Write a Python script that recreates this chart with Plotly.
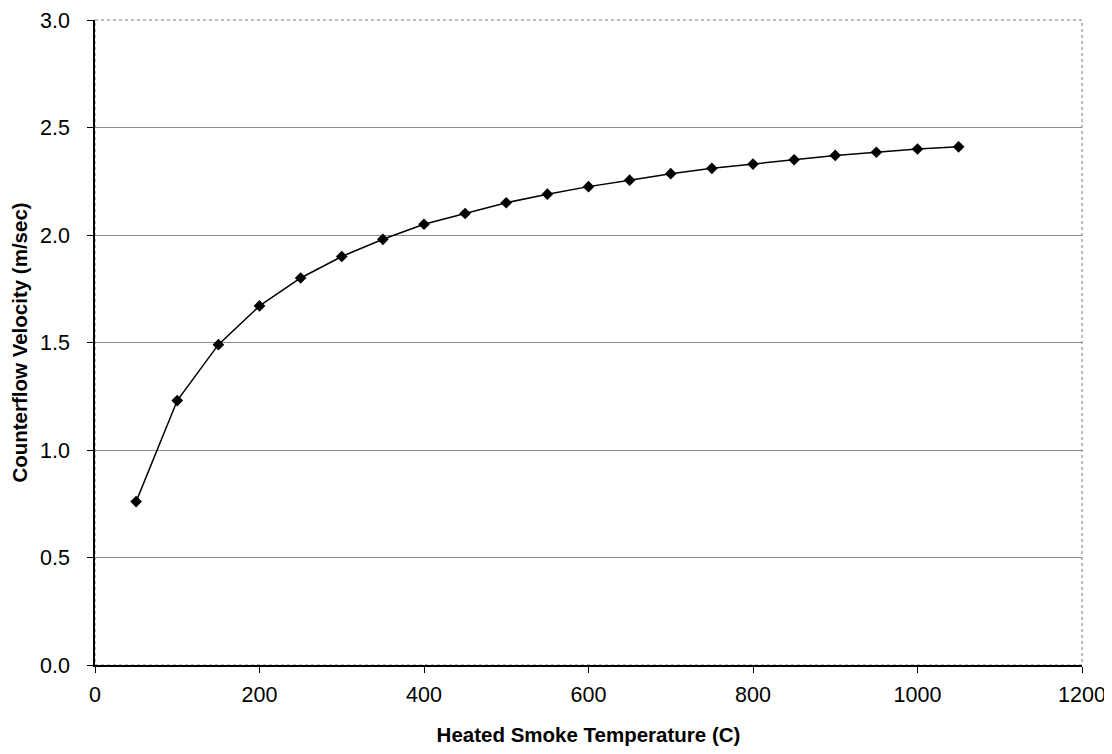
import plotly.graph_objects as go

temperature = [50, 100, 150, 200, 250, 300, 350, 400, 450, 500, 550,
               600, 650, 700, 750, 800, 850, 900, 950, 1000, 1050]
velocity = [0.76, 1.23, 1.49, 1.67, 1.80, 1.90, 1.98, 2.05, 2.10, 2.15, 2.19,
            2.225, 2.255, 2.285, 2.31, 2.33, 2.35, 2.37, 2.385, 2.40, 2.41]

x_ticks = [0, 200, 400, 600, 800, 1000, 1200]
y_ticks = [0.0, 0.5, 1.0, 1.5, 2.0, 2.5, 3.0]

fig = go.Figure()
fig.add_trace(go.Scatter(
    x=temperature, y=velocity, mode="lines+markers",
    line=dict(color="black", width=1.5),
    marker=dict(symbol="diamond", size=9, color="black"),
    showlegend=False,
))

font_family = "Liberation Sans, Arial, sans-serif"
fig.update_layout(
    width=1104, height=738,
    margin=dict(l=87, r=30, t=12, b=81),
    paper_bgcolor="white", plot_bgcolor="white",
    font=dict(family=font_family, size=21, color="black"),
    xaxis=dict(
        range=[0, 1200], tickvals=x_ticks, ticktext=[str(v) for v in x_ticks],
        showgrid=False, zeroline=False, automargin=False,
        showline=True, linecolor="black", linewidth=1.5,
        ticks="outside", ticklen=6, tickcolor="black",
        ticklabelstandoff=3, ticklabeloverflow="allow",
        title=dict(text="<b>Heated Smoke Temperature (C)</b>", font=dict(size=20.5), standoff=22),
        tickfont=dict(size=21.5),
    ),
    yaxis=dict(
        range=[0, 3.0], tickvals=y_ticks, ticktext=[f"{v:.1f}" for v in y_ticks],
        showgrid=True, gridcolor="#8a8a8a", gridwidth=1, zeroline=False, automargin=False,
        showline=True, linecolor="black", linewidth=1.5,
        ticks="outside", ticklen=6, tickcolor="black",
        ticklabelstandoff=13, ticklabeloverflow="allow",
        title=dict(text="<b>Counterflow Velocity (m/sec)</b>", font=dict(size=20.5), standoff=10),
        tickfont=dict(size=21.5),
    ),
)
fig.add_shape(type="rect", xref="paper", yref="paper", x0=0, y0=0, x1=1, y1=1,
              line=dict(color="#777777", width=1, dash="dot"), layer="below")

fig.write_html("out.html")
